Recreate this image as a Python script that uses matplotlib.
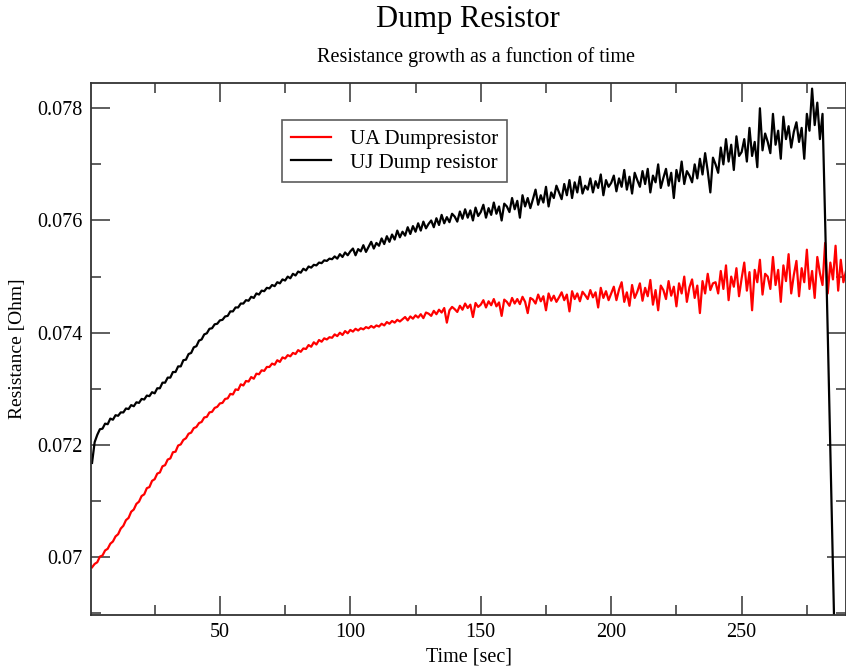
import numpy as np
import matplotlib
matplotlib.use("Agg")
import matplotlib.pyplot as plt
from matplotlib.ticker import MultipleLocator, FuncFormatter

plt.rcParams['font.family'] = ['Liberation Serif', 'DejaVu Serif']

# ---- data (resistance in units of 1e-5 Ohm) ----
time_ua = list(range(1, 291))
ua_dump = [
    6982, 6988, 6991, 7001, 7003, 7012, 7015, 7024, 7028, 7037,
    7041, 7051, 7056, 7066, 7070, 7081, 7085, 7095, 7099, 7109,
    7112, 7123, 7125, 7136, 7139, 7149, 7151, 7162, 7164, 7174,
    7176, 7187, 7188, 7199, 7201, 7209, 7212, 7220, 7222, 7230,
    7232, 7239, 7241, 7249, 7250, 7258, 7259, 7266, 7268, 7274,
    7275, 7282, 7283, 7291, 7290, 7299, 7298, 7308, 7306, 7314,
    7313, 7321, 7318, 7327, 7326, 7333, 7332, 7339, 7339, 7345,
    7343, 7351, 7348, 7356, 7354, 7360, 7358, 7364, 7362, 7369,
    7366, 7372, 7371, 7378, 7375, 7383, 7379, 7387, 7384, 7390,
    7388, 7392, 7391, 7397, 7394, 7400, 7396, 7403, 7399, 7405,
    7402, 7407, 7404, 7408, 7406, 7410, 7408, 7412, 7409, 7413,
    7411, 7416, 7413, 7419, 7416, 7421, 7418, 7423, 7420, 7424,
    7428, 7422, 7429, 7425, 7431, 7427, 7433, 7426, 7436, 7434,
    7430, 7439, 7433, 7441, 7436, 7444, 7418, 7440, 7446, 7442,
    7437, 7448, 7441, 7452, 7444, 7450, 7428, 7453, 7446, 7450,
    7458, 7445, 7456, 7449, 7460, 7447, 7454, 7430, 7459, 7455,
    7448, 7462, 7452, 7460, 7451, 7464, 7455, 7435, 7462, 7459,
    7452, 7468, 7456, 7465, 7440, 7470, 7457, 7466, 7455, 7463,
    7472, 7458, 7468, 7438, 7474, 7460, 7470, 7456, 7473, 7467,
    7460, 7476, 7463, 7472, 7445, 7480, 7462, 7474, 7458, 7470,
    7482, 7458, 7477, 7490, 7455, 7472, 7448, 7485, 7462, 7473,
    7488, 7457, 7480, 7465, 7494, 7450, 7476, 7440, 7484, 7476,
    7460, 7492, 7466, 7482, 7447, 7488, 7470, 7500, 7455, 7481,
    7495, 7462, 7484, 7435, 7492, 7470, 7505, 7476, 7488, 7490,
    7470, 7510, 7478, 7520, 7458, 7500, 7482, 7515, 7465, 7497,
    7525, 7475, 7508, 7440, 7512, 7490, 7530, 7468, 7505, 7500,
    7478, 7535, 7485, 7512, 7455, 7520, 7492, 7540, 7470, 7503,
    7528, 7465, 7515, 7490, 7548, 7478, 7510, 7462, 7535, 7506,
    7485, 7560, 7470, 7525, 7495, 7555, 7475, 7530, 7490, 7510,
]

time_uj = list(range(1, 287))
uj_dump = [
    7168, 7205, 7218, 7228, 7229, 7238, 7237, 7247, 7245, 7253,
    7252, 7258, 7258, 7265, 7264, 7271, 7269, 7276, 7275, 7282,
    7281, 7288, 7287, 7294, 7292, 7301, 7301, 7311, 7311, 7320,
    7320, 7330, 7330, 7340, 7340, 7351, 7352, 7362, 7364, 7374,
    7376, 7386, 7388, 7397, 7399, 7407, 7408, 7415, 7416, 7422,
    7423, 7429, 7430, 7438, 7438, 7445, 7445, 7452, 7452, 7458,
    7457, 7464, 7462, 7470, 7468, 7475, 7474, 7480, 7479, 7485,
    7483, 7490, 7488, 7495, 7493, 7500, 7497, 7505, 7502, 7509,
    7507, 7514, 7511, 7518, 7516, 7521, 7520, 7525, 7524, 7529,
    7528, 7532, 7531, 7536, 7532, 7540, 7535, 7543, 7538, 7545,
    7550, 7538, 7549, 7545, 7556, 7544, 7553, 7562, 7550, 7560,
    7555, 7568, 7558, 7572, 7562, 7575, 7566, 7582, 7570, 7580,
    7573, 7588, 7576, 7590, 7580, 7595, 7582, 7598, 7586, 7594,
    7600, 7588, 7604, 7592, 7610, 7595, 7606, 7597, 7612, 7607,
    7598, 7616, 7603, 7620, 7605, 7618, 7600, 7623, 7608, 7615,
    7628, 7605, 7622, 7610, 7632, 7612, 7625, 7600, 7630, 7625,
    7615, 7640, 7620, 7635, 7605, 7645, 7625, 7640, 7622, 7638,
    7655, 7628, 7645, 7632, 7660, 7625, 7650, 7640, 7662, 7650,
    7638, 7665, 7645, 7672, 7640, 7668, 7650, 7678, 7648, 7662,
    7655, 7675, 7650, 7670, 7658, 7682, 7645, 7672, 7660, 7667,
    7680, 7652, 7675, 7660, 7690, 7655, 7678, 7648, 7685, 7672,
    7660, 7688, 7665, 7692, 7650, 7680, 7668, 7700, 7658, 7676,
    7692, 7662, 7685, 7640, 7690, 7670, 7705, 7665, 7688, 7680,
    7668, 7700, 7675, 7710, 7682, 7720, 7688, 7650, 7712, 7700,
    7685, 7730, 7700, 7745, 7705, 7735, 7690, 7750, 7715, 7722,
    7745, 7705, 7765, 7715, 7740, 7695, 7800, 7725, 7755, 7740,
    7720, 7790, 7735, 7760, 7710, 7785, 7745, 7768, 7730, 7758,
    7775, 7740, 7765, 7710, 7790, 7760, 7835, 7770, 7810, 7745,
    7790, 7600, 7400, 7190, 6980, 6770,
]

x_ticks = [50, 100, 150, 200, 250]
y_ticks = [0.070, 0.072, 0.074, 0.076, 0.078]

# ---- figure ----
fig = plt.figure(figsize=(8.46, 6.70), dpi=100)
ax = fig.add_axes([91/846, 1 - 615/670, (846 - 91)/846, (615 - 83)/670])

ax.plot(time_ua, np.array(ua_dump) * 1e-5, color='#ff0000', lw=1.6,
        label='UA Dumpresistor')
ax.plot(time_uj, np.array(uj_dump) * 1e-5, color='black', lw=1.6,
        label='UJ Dump resistor')

ax.set_xlim(0.6, 290)
ax.set_ylim(0.06897, 0.07845)

ax.set_xticks(x_ticks)
ax.set_yticks(y_ticks)
ax.xaxis.set_minor_locator(MultipleLocator(25))
ax.yaxis.set_minor_locator(MultipleLocator(0.001))
ax.yaxis.set_major_formatter(FuncFormatter(lambda v, p: '%g' % round(v, 4)))

ax.tick_params(which='both', direction='in', top=True, right=True,
               labelsize=14.5, color='#333333')
ax.tick_params(which='major', length=14, width=1.1, pad=6)
ax.tick_params(which='minor', length=7, width=1.1)
for s in ax.spines.values():
    s.set_linewidth(1.3)
    s.set_color('#333333')

ax.set_xlabel('Time [sec]', fontsize=14.5, labelpad=4)
ax.set_ylabel('Resistance [Ohm]', fontsize=14, labelpad=8)

fig.text(0.5 + 45/846, 1 - 20/670, 'Dump Resistor', ha='center', va='center',
         fontsize=22)
fig.text(0.5 + 53/846, 1 - 57/670, 'Resistance growth as a function of time',
         ha='center', va='center', fontsize=14.5)

leg = ax.legend(loc='upper left', bbox_to_anchor=(282/846, 1 - 120/670),
                bbox_transform=fig.transFigure, fontsize=15, frameon=True,
                fancybox=False, edgecolor='#333333', borderpad=0.45,
                handlelength=1.9, handletextpad=0.9, labelspacing=0.2,
                borderaxespad=0)
leg.get_frame().set_linewidth(1.2)

fig.savefig('out.png', dpi=100)
